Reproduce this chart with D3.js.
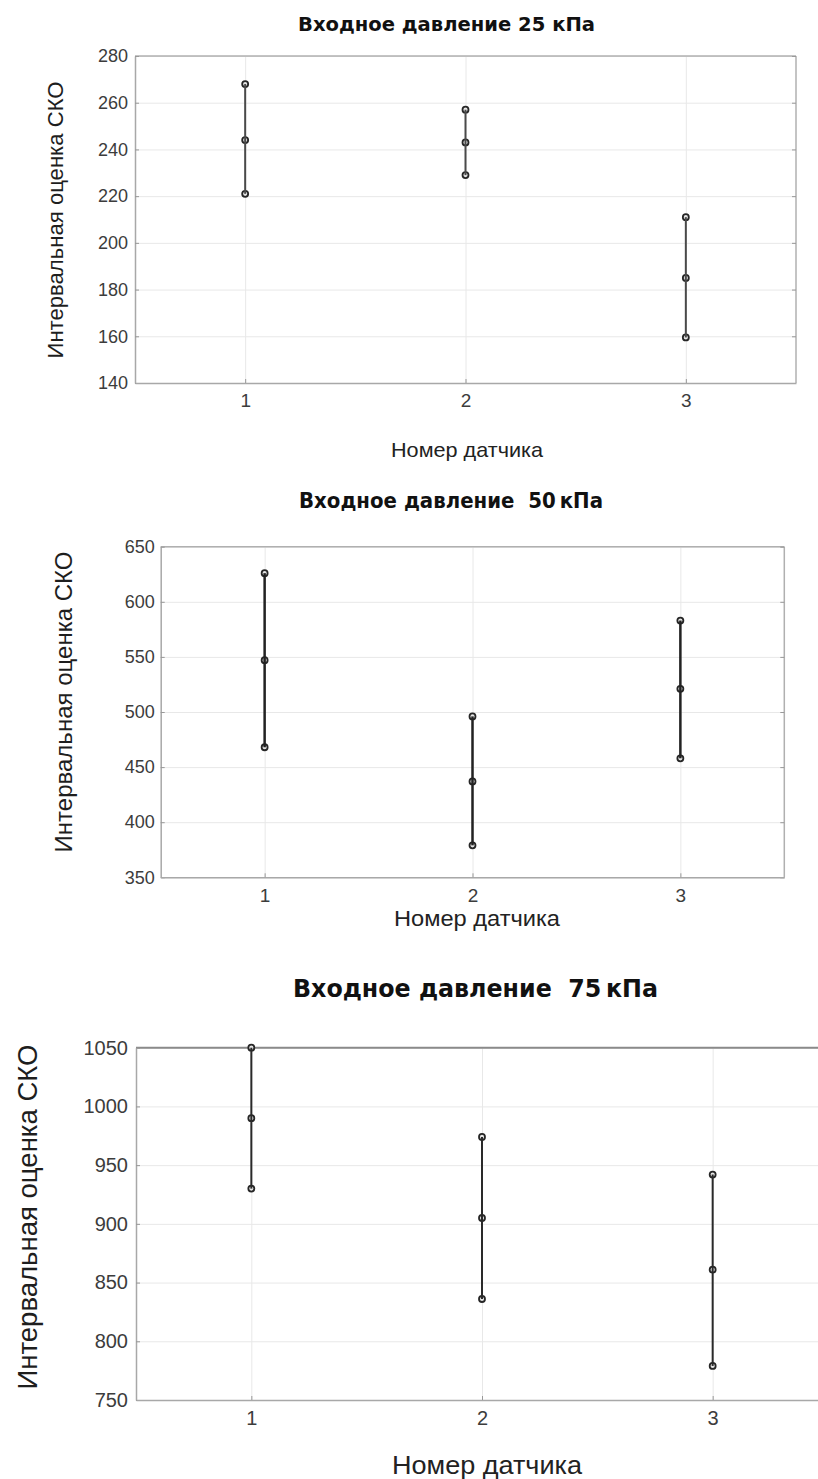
<!DOCTYPE html>
<html>
<head>
<meta charset="utf-8">
<script src="https://cdn.jsdelivr.net/npm/d3@7"></script>
<style>
  html, body { margin: 0; padding: 0; background: #fff; }
  svg { display: block; }
</style>
</head>
<body>
<svg id="chart" width="818" height="1479"></svg>
<script>
// Sensor numbers on the x axis
const sensors = [1, 2, 3];

// Interval estimates of the standard deviation (lower, point, upper) per sensor
const low25  = [221, 229, 159.5];
const mid25  = [244, 243, 185];
const high25 = [268, 257, 211];

const low50  = [468, 379, 458];
const mid50  = [547, 437, 521];
const high50 = [626, 496, 583];

const low75  = [930, 836, 779];
const mid75  = [990, 905, 861];
const high75 = [1050, 974, 942];

// Y tick labels for each panel
const yTicks25 = [140, 160, 180, 200, 220, 240, 260, 280];
const yTicks50 = [350, 400, 450, 500, 550, 600, 650];
const yTicks75 = [750, 800, 850, 900, 950, 1000, 1050];

const titles = [
  "Входное давление 25 кПа",
  "Входное давление\u00a0\u00a050\u2009кПа",
  "Входное давление\u00a0\u00a075\u2009кПа"
];
const yLabel = "Интервальная оценка СКО";
const xLabel = "Номер датчика";

// Panel geometry and text styling
const panels = [
  {
    low: low25, mid: mid25, high: high25, ticks: yTicks25, title: titles[0],
    left: 135, right: 796, top: 56, bottom: 383,
    titleX: 446.5, titleY: 31, titleSize: 20, titleW: 297,
    yLabX: 63, yLabY: 220, yLabSize: 22.5, yLabW: 277,
    xLabX: 467, xLabY: 457, xLabSize: 21, xLabW: 152,
    tickSize: 18, yPad: 7, xPad: 10.5, xTickSize: 19,
    lineColor: "#4a4a4a", lineW: 2, topBorder: "#b0b0b0", topBorderW: 1.5
  },
  {
    low: low50, mid: mid50, high: high50, ticks: yTicks50, title: titles[1],
    left: 160.7, right: 784.3, top: 546.7, bottom: 877.3,
    titleX: 451, titleY: 508, titleSize: 20.5, titleW: 304,
    yLabX: 72, yLabY: 702, yLabSize: 24.5, yLabW: 301,
    xLabX: 477, xLabY: 926, xLabSize: 22, xLabW: 166,
    tickSize: 18, yPad: 6, xPad: 11, xTickSize: 19,
    lineColor: "#222", lineW: 2.5, topBorder: "#b0b0b0", topBorderW: 1.5
  },
  {
    low: low75, mid: mid75, high: high75, ticks: yTicks75, title: titles[2],
    left: 136, right: 828, top: 1047.7, bottom: 1400,
    titleX: 475.5, titleY: 997, titleSize: 24, titleW: 365,
    yLabX: 37, yLabY: 1217, yLabSize: 28, yLabW: 345,
    xLabX: 487, xLabY: 1474, xLabSize: 25, xLabW: 190,
    tickSize: 20, yPad: 8, xPad: 10.8, xTickSize: 20,
    lineColor: "#2a2a2a", lineW: 2, topBorder: "#8a8a8a", topBorderW: 2
  }
];

const svg = d3.select("#chart");
const intFmt = d3.format("d");

panels.forEach(p => {
  const w = p.right - p.left;
  const h = p.bottom - p.top;

  const x = d3.scaleLinear().domain([0.5, 3.5]).range([p.left, p.right]);
  const y = d3.scaleLinear()
    .domain([d3.min(p.ticks), d3.max(p.ticks)])
    .range([p.bottom, p.top]);

  const g = svg.append("g");

  // Grid lines
  g.append("g")
    .attr("transform", `translate(${p.left},0)`)
    .call(d3.axisLeft(y).tickValues(p.ticks).tickSize(-w).tickFormat(""))
    .call(a => a.select(".domain").remove())
    .call(a => a.selectAll("line").attr("stroke", "#e8e8e8").attr("stroke-width", 1));
  g.append("g")
    .attr("transform", `translate(0,${p.bottom})`)
    .call(d3.axisBottom(x).tickValues(sensors).tickSize(-h).tickFormat(""))
    .call(a => a.select(".domain").remove())
    .call(a => a.selectAll("line").attr("stroke", "#e8e8e8").attr("stroke-width", 1));

  // Axes box
  g.append("line").attr("x1", p.left).attr("x2", p.right)
    .attr("y1", p.top).attr("y2", p.top)
    .attr("stroke", p.topBorder).attr("stroke-width", p.topBorderW);
  g.append("line").attr("x1", p.right).attr("x2", p.right)
    .attr("y1", p.top).attr("y2", p.bottom)
    .attr("stroke", "#b0b0b0").attr("stroke-width", 1.5);

  // Left axis with inward ticks
  g.append("g")
    .attr("transform", `translate(${p.left},0)`)
    .call(d3.axisLeft(y).tickValues(p.ticks).tickFormat(intFmt)
      .tickSizeInner(-4).tickSizeOuter(0).tickPadding(p.yPad))
    .call(a => a.select(".domain").attr("stroke", "#a8a8a8").attr("stroke-width", 1.5))
    .call(a => a.selectAll(".tick line").attr("stroke", "#999"))
    .call(a => a.selectAll("text")
      .attr("fill", "#3c3c3c")
      .style("font-family", "'Liberation Sans', Arial, sans-serif")
      .style("font-size", p.tickSize + "px"));

  // Inward ticks on the right edge
  g.append("g")
    .attr("transform", `translate(${p.right},0)`)
    .call(d3.axisRight(y).tickValues(p.ticks).tickSizeInner(-4).tickSizeOuter(0).tickFormat(""))
    .call(a => a.select(".domain").remove())
    .call(a => a.selectAll(".tick line").attr("stroke", "#999"));

  // Bottom axis
  g.append("g")
    .attr("transform", `translate(0,${p.bottom})`)
    .call(d3.axisBottom(x).tickValues(sensors).tickFormat(intFmt)
      .tickSizeInner(-4).tickSizeOuter(0).tickPadding(p.xPad))
    .call(a => a.select(".domain").attr("stroke", "#a8a8a8").attr("stroke-width", 1.5))
    .call(a => a.selectAll(".tick line").attr("stroke", "#999"))
    .call(a => a.selectAll("text")
      .attr("fill", "#3c3c3c")
      .style("font-family", "'Liberation Sans', Arial, sans-serif")
      .style("font-size", p.xTickSize + "px"));

  // Error bars: whisker from lower to upper estimate, markers at all three values
  const rows = sensors.map((s, i) => ({ s, lo: p.low[i], md: p.mid[i], hi: p.high[i] }));

  const marks = g.append("g");
  rows.forEach(r => {
    [r.lo, r.md, r.hi].forEach(v => {
      marks.append("circle")
        .attr("cx", x(r.s)).attr("cy", y(v)).attr("r", 3)
        .attr("fill", "#e6e6e6").attr("stroke", "#262626").attr("stroke-width", 1.8);
    });
  });
  marks.selectAll("line.bar")
    .data(rows)
    .join("line")
    .attr("class", "bar")
    .attr("x1", d => x(d.s)).attr("x2", d => x(d.s))
    .attr("y1", d => y(d.lo)).attr("y2", d => y(d.hi))
    .attr("stroke", p.lineColor).attr("stroke-width", p.lineW);

  // Title
  svg.append("text")
    .attr("x", p.titleX).attr("y", p.titleY)
    .attr("text-anchor", "middle")
    .attr("textLength", p.titleW).attr("lengthAdjust", "spacingAndGlyphs")
    .style("font-family", "'DejaVu Sans', Verdana, sans-serif")
    .style("font-weight", "bold")
    .style("font-size", p.titleSize + "px")
    .attr("fill", "#111")
    .text(p.title);

  // Y axis label
  svg.append("text")
    .attr("transform", `translate(${p.yLabX},${p.yLabY}) rotate(-90)`)
    .attr("text-anchor", "middle")
    .attr("textLength", p.yLabW).attr("lengthAdjust", "spacingAndGlyphs")
    .style("font-family", "'Liberation Sans', Arial, sans-serif")
    .style("font-size", p.yLabSize + "px")
    .attr("fill", "#1e1e1e")
    .text(yLabel);

  // X axis label
  svg.append("text")
    .attr("x", p.xLabX).attr("y", p.xLabY)
    .attr("text-anchor", "middle")
    .attr("textLength", p.xLabW).attr("lengthAdjust", "spacingAndGlyphs")
    .style("font-family", "'Liberation Sans', Arial, sans-serif")
    .style("font-size", p.xLabSize + "px")
    .attr("fill", "#222")
    .text(xLabel);
});
</script>
</body>
</html>
